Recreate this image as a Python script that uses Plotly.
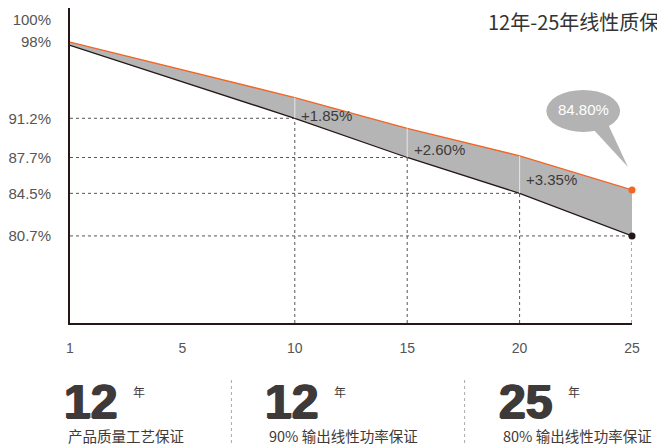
import plotly.graph_objects as go

# ---- data ----
x_pos = [0, 10, 15, 20, 25]                  # axis positions (0 is labelled "1")
lower = [97.7, 91.2, 87.7, 84.5, 80.7]       # black line
upper = [98.0, 93.05, 90.3, 87.85, 84.8]     # orange line
gains = [1.85, 2.60, 3.35]                   # at years 10, 15, 20
x_ticks = [0, 5, 10, 15, 20, 25]
x_ticklabels = ["1", "5", "10", "15", "20", "25"]
y_ticks = [80.7, 84.5, 87.7, 91.2, 98, 100]
y_ticklabels = ["80.7%", "84.5%", "87.7%", "91.2%", "98%", "100%"]
title_text = "12年-25年线性质保"
blocks = [("12", "产品质量工艺保证"), ("12", "90% 输出线性功率保证"), ("25", "80% 输出线性功率保证")]

OFF = 8  # page body margin
W, H = 665 - OFF, 445 - OFF
L, R, T, B = 68 - OFF, 33, 8 - OFF, 122
YR = [72.93, 101.04]
XR = [0, 25]
pw, ph = W - L - R, H - T - B

def px2paper_x(px):
    return (px - OFF - L) / pw

def px2paper_y(py):
    return (H - B - (py - OFF)) / ph

CJK = "Noto Sans CJK SC"
ARIAL = "Liberation Sans"
DARK = "#3e3a39"

fig = go.Figure()
fig.add_trace(go.Scatter(x=x_pos, y=lower, mode="lines", line=dict(color="#231815", width=1.3),
                         hoverinfo="skip", showlegend=False))
fig.add_trace(go.Scatter(x=x_pos, y=upper, mode="lines", line=dict(color="#f26522", width=1.3),
                         fill="tonexty", fillcolor="#b5b5b5", hoverinfo="skip", showlegend=False))

shapes = []
for xv, lo, up in zip(x_pos[1:], lower[1:], upper[1:]):
    if xv < 25:
        shapes.append(dict(type="line", x0=xv, x1=xv, y0=lo, y1=up, xref="x", yref="y",
                           line=dict(color="#e6e6e6", width=1), layer="above"))
    shapes.append(dict(type="line", x0=0, x1=xv, y0=lo, y1=lo, xref="x", yref="y",
                       line=dict(color="#555555", width=1, dash="dot"), layer="below"))
    shapes.append(dict(type="line", x0=xv, x1=xv, y0=YR[0], y1=lo, xref="x", yref="y",
                       line=dict(color="#555555", width=1, dash="dot"), layer="below"))

# speech bubble
shapes.append(dict(type="circle", x0=21.19, x1=24.47, y0=89.98, y1=93.73, xref="x", yref="y",
                   fillcolor="#b3b3b3", line=dict(width=0), layer="above"))
shapes.append(dict(type="path", path="M 23.1 90.6 L 23.95 90.6 L 24.82 86.86 Z", xref="x", yref="y",
                   fillcolor="#b3b3b3", line=dict(width=0), layer="above"))

# bottom separators
for sx in [230, 464]:
    shapes.append(dict(type="line", x0=px2paper_x(sx), x1=px2paper_x(sx), y0=px2paper_y(380), y1=px2paper_y(445),
                       xref="paper", yref="paper", line=dict(color="#aaaaaa", width=1, dash="dot")))
fig.update_layout(shapes=shapes)

fig.add_trace(go.Scatter(x=[x_pos[-1]], y=[upper[-1]], mode="markers", marker=dict(color="#f26522", size=7),
                         cliponaxis=False, hoverinfo="skip", showlegend=False))
fig.add_trace(go.Scatter(x=[x_pos[-1]], y=[lower[-1]], mode="markers", marker=dict(color="#231815", size=7),
                         cliponaxis=False, hoverinfo="skip", showlegend=False))

ann = []
label_y = [91.45, 88.45, 85.75]
for xv, g, ly in zip(x_pos[1:4], gains, label_y):
    ann.append(dict(x=xv + 0.2, y=ly, xref="x", yref="y", text=f"+{g:.2f}%", showarrow=False,
                    xanchor="left", yanchor="middle", font=dict(family=ARIAL, size=15, color=DARK)))
ann.append(dict(x=22.83, y=92.0, xref="x", yref="y", text=f"{upper[-1]:.2f}%", showarrow=False,
                xanchor="center", yanchor="middle", font=dict(family=ARIAL, size=15, color="#ffffff")))
ann.append(dict(x=px2paper_x(661), y=px2paper_y(22), xref="paper", yref="paper", text=title_text,
                showarrow=False, xanchor="right", yanchor="middle", font=dict(family=CJK, size=20, color="#333333")))

block_x = [63, 265, 500]
for bx, (num, sub) in zip(block_x, blocks):
    ann.append(dict(x=px2paper_x(bx - 3), y=px2paper_y(401), xref="paper", yref="paper", text=f"<b>{num}</b>",
                    showarrow=False, xanchor="left", yanchor="middle",
                    font=dict(family=ARIAL, size=48, color=DARK,
                              shadow="1px 0 0 #3e3a39, -1px 0 0 #3e3a39, 0 1px 0 #3e3a39")))
    ann.append(dict(x=px2paper_x(bx + 66), y=px2paper_y(391), xref="paper", yref="paper", text="年",
                    showarrow=False, xanchor="left", yanchor="middle", font=dict(family=CJK, size=12, color=DARK)))
    ann.append(dict(x=px2paper_x(bx + 1), y=px2paper_y(435.5), xref="paper", yref="paper", text=sub,
                    showarrow=False, xanchor="left", yanchor="middle", font=dict(family=CJK, size=14.5, color=DARK)))

fig.update_layout(
    width=W, height=H, margin=dict(l=L, r=R, t=T, b=B),
    paper_bgcolor="white", plot_bgcolor="white",
    annotations=ann,
    xaxis=dict(range=XR, tickvals=x_ticks, ticktext=x_ticklabels, showgrid=False, zeroline=False,
               showline=True, linecolor="#231815", linewidth=2, ticks="", ticklabelstandoff=11,
               tickfont=dict(family=ARIAL, size=14, color="#555555"), fixedrange=True),
    yaxis=dict(range=YR, tickvals=y_ticks, ticktext=y_ticklabels, showgrid=False, zeroline=False,
               showline=True, linecolor="#231815", linewidth=2, ticks="", ticklabelstandoff=14,
               tickfont=dict(family=ARIAL, size=15, color="#555555"), fixedrange=True),
)

fig.write_html("out.html")
